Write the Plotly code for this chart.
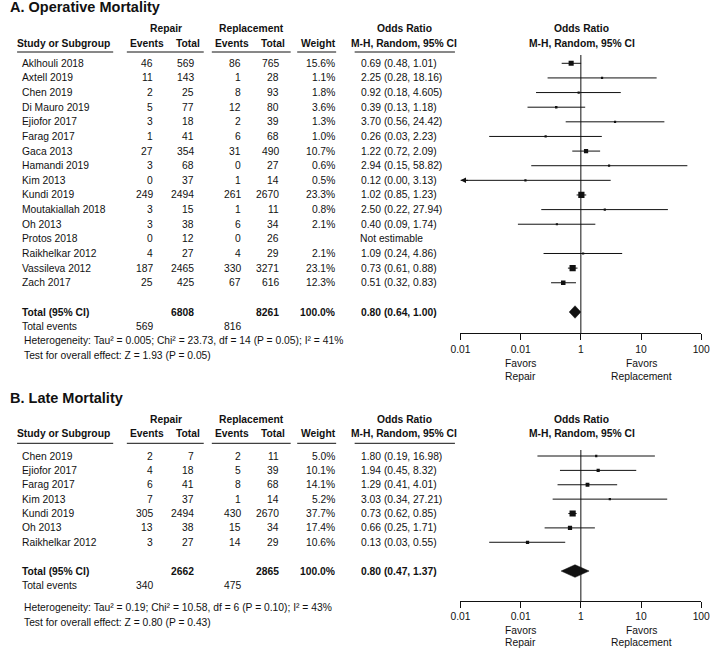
import plotly.graph_objects as go

W, H = 719, 648
FONT = "Liberation Sans, Arial, sans-serif"
INK = "#111111"
FS = 10.3

# ---------------- A. Operative Mortality ----------------
op_study = ["Aklhouli 2018", "Axtell 2019", "Chen 2019", "Di Mauro 2019", "Ejiofor 2017",
            "Farag 2017", "Gaca 2013", "Hamandi 2019", "Kim 2013", "Kundi 2019",
            "Moutakiallah 2018", "Oh 2013", "Protos 2018", "Raikhelkar 2012",
            "Vassileva 2012", "Zach 2017"]
op_rep_ev = [46, 11, 2, 5, 3, 1, 27, 3, 0, 249, 3, 3, 0, 4, 187, 25]
op_rep_tot = [569, 143, 25, 77, 18, 41, 354, 68, 37, 2494, 15, 38, 12, 27, 2465, 425]
op_repl_ev = [86, 1, 8, 12, 2, 6, 31, 0, 1, 261, 1, 6, 0, 4, 330, 67]
op_repl_tot = [765, 28, 93, 80, 39, 68, 490, 27, 14, 2670, 11, 34, 26, 29, 3271, 616]
op_weight = [15.6, 1.1, 1.8, 3.6, 1.3, 1.0, 10.7, 0.6, 0.5, 23.3, 0.8, 2.1, None, 2.1, 23.1, 12.3]
op_or = [0.69, 2.25, 0.92, 0.39, 3.70, 0.26, 1.22, 2.94, 0.12, 1.02, 2.50, 0.40, None, 1.09, 0.73, 0.51]
op_lo = [0.48, 0.28, 0.18, 0.13, 0.56, 0.03, 0.72, 0.15, 0.00, 0.85, 0.22, 0.09, None, 0.24, 0.61, 0.32]
op_hi = [1.01, 18.16, 4.605, 1.18, 24.42, 2.23, 2.09, 58.82, 3.13, 1.23, 27.94, 1.74, None, 4.86, 0.88, 0.83]
op_total = dict(rep_tot=6808, repl_tot=8261, rep_ev=569, repl_ev=816, est=0.80, lo=0.64, hi=1.00)
op_het = "Heterogeneity: Tau² = 0.005; Chi² = 23.73, df = 14 (P = 0.05); I² = 41%"
op_z = "Test for overall effect: Z = 1.93 (P = 0.05)"

# ---------------- B. Late Mortality ----------------
late_study = ["Chen 2019", "Ejiofor 2017", "Farag 2017", "Kim 2013", "Kundi 2019", "Oh 2013",
              "Raikhelkar 2012"]
late_rep_ev = [2, 4, 6, 7, 305, 13, 3]
late_rep_tot = [7, 18, 41, 37, 2494, 38, 27]
late_repl_ev = [2, 5, 8, 1, 430, 15, 14]
late_repl_tot = [11, 39, 68, 14, 2670, 34, 29]
late_weight = [5.0, 10.1, 14.1, 5.2, 37.7, 17.4, 10.6]
late_or = [1.80, 1.94, 1.29, 3.03, 0.73, 0.66, 0.13]
late_lo = [0.19, 0.45, 0.41, 0.34, 0.62, 0.25, 0.03]
late_hi = [16.98, 8.32, 4.01, 27.21, 0.85, 1.71, 0.55]
late_total = dict(rep_tot=2662, repl_tot=2865, rep_ev=340, repl_ev=475, est=0.80, lo=0.47, hi=1.37)
late_het = "Heterogeneity: Tau² = 0.19; Chi² = 10.58, df = 6 (P = 0.10); I² = 43%"
late_z = "Test for overall effect: Z = 0.80 (P = 0.43)"

tick_vals = [0.01, 0.1, 1, 10, 100]
tick_text = ["0.01", "0.01", "1", "10", "100"]

# column anchors (pixels)
X_NAME, X_REV, X_RTOT, X_PEV, X_PTOT, X_W, X_OR = 12.7, 147.3, 189.3, 237.3, 276.7, 334, 361
X_PLOT0, X_PLOT1 = 462.7, 710.0


def num(v):
    s = f"{v:.2f}"
    return s if abs(float(s) - v) < 1e-9 else str(v)


def ci_label(e, lo, hi):
    return f"{num(e)} ({num(lo)}, {num(hi)})"


fig = go.Figure()
ann = []
shapes = []


def txt(x, y, s, xanchor="left", bold=False, yref="paper", size=FS):
    if bold:
        s = f"<b>{s}</b>"
    ann.append(dict(x=x / W, y=(1 - y / H) if yref == "paper" else y, xref="paper", yref=yref,
                    text=s, showarrow=False, xanchor=xanchor, yanchor="middle",
                    borderpad=0, borderwidth=0,
                    font=dict(family=FONT, size=size, color=INK)))


def hline(x0, x1, y):
    shapes.append(dict(type="line", xref="paper", yref="paper", x0=x0 / W, x1=x1 / W,
                       y0=1 - y / H, y1=1 - y / H, line=dict(color=INK, width=1)))


def panel(k, title, y_title, y_head, y_line, v_top, top, step, bottom, total_row,
          study, rev, rtot, pev, ptot, wt, est, lo, hi, tot, het, z, y_het, y_z, y_fav):
    xa = "x" if k == 1 else f"x{k}"
    ya = "y" if k == 1 else f"y{k}"
    yref = ya
    rng = [(bottom - top) / step, (v_top - top) / step]

    txt(0, y_title, title, bold=True, size=14.5)
    # headers
    txt(160, y_head, "Repair", "center", True)
    txt(247.7, y_head, "Replacement", "center", True)
    txt(405, y_head, "Odds Ratio", "center", True)
    txt(587.5, y_head, "Odds Ratio", "center", True)
    y2 = y_head + 14.5
    txt(7.3, y2, "Study or Subgroup", "left", True)
    txt(140.3, y2, "Events", "center", True)
    txt(182.5, y2, "Total", "center", True)
    txt(227.7, y2, "Events", "center", True)
    txt(269.7, y2, "Total", "center", True)
    txt(317, y2, "Weight", "center", True)
    txt(405, y2, "M-H, Random, 95% CI", "center", True)
    txt(587.5, y2, "M-H, Random, 95% CI", "center", True)
    for a, b in [(7.3, 106), (120, 199), (207.3, 288.3), (295, 335), (354, 457)]:
        hline(a, b, y_line)

    smax = max(w for w in wt if w is not None)
    for i, name in enumerate(study):
        txt(X_NAME, i, name, yref=yref)
        txt(X_REV, i, str(rev[i]), "right", yref=yref)
        txt(X_RTOT, i, str(rtot[i]), "right", yref=yref)
        txt(X_PEV, i, str(pev[i]), "right", yref=yref)
        txt(X_PTOT, i, str(ptot[i]), "right", yref=yref)
        if wt[i] is None:
            txt(X_OR - 1, i, "Not estimable", yref=yref)
            continue
        txt(X_W, i, f"{wt[i]:.1f}%", "right", yref=yref)
        txt(X_OR, i, ci_label(est[i], lo[i], hi[i]), yref=yref)
        lo_c = max(lo[i], 0.01)
        fig.add_trace(go.Scatter(x=[lo_c, min(hi[i], 100)], y=[i, i], mode="lines",
                                 line=dict(color=INK, width=1), xaxis=xa, yaxis=ya,
                                 hoverinfo="skip"))
        size = max(2.2, 6.2 * (wt[i] / smax) ** 0.5)
        fig.add_trace(go.Scatter(x=[est[i]], y=[i], mode="markers",
                                 marker=dict(symbol="square", size=size, color=INK,
                                             line=dict(width=0)),
                                 xaxis=xa, yaxis=ya, hoverinfo="skip"))
        if lo[i] < 0.01:
            ann.append(dict(x=-2, y=i, xref=xa, yref=ya, ax=9, ay=0, text="",
                            showarrow=True, arrowhead=2, arrowsize=1.1, arrowwidth=1,
                            arrowcolor=INK, standoff=0))

    # total row
    tr = total_row
    txt(X_NAME, tr, "Total (95% CI)", bold=True, yref=yref)
    txt(X_RTOT, tr, str(tot["rep_tot"]), "right", True, yref=yref)
    txt(X_PTOT, tr, str(tot["repl_tot"]), "right", True, yref=yref)
    txt(X_W, tr, "100.0%", "right", True, yref=yref)
    txt(X_OR, tr, ci_label(tot["est"], tot["lo"], tot["hi"]), bold=True, yref=yref)
    txt(X_NAME, tr + 1, "Total events", yref=yref)
    txt(X_REV, tr + 1, str(tot["rep_ev"]), "right", yref=yref)
    txt(X_PEV, tr + 1, str(tot["repl_ev"]), "right", yref=yref)
    txt(14, y_het, het)
    txt(14, y_z, z)

    hh = 6.3 / step
    fig.add_trace(go.Scatter(x=[tot["lo"], tot["est"], tot["hi"], tot["est"], tot["lo"]],
                             y=[tr, tr - hh, tr, tr + hh, tr], mode="lines", fill="toself",
                             fillcolor=INK, line=dict(color=INK, width=0.5),
                             xaxis=xa, yaxis=ya, hoverinfo="skip"))
    # line of no effect
    fig.add_trace(go.Scatter(x=[1, 1], y=rng, mode="lines", line=dict(color=INK, width=1),
                             xaxis=xa, yaxis=ya, hoverinfo="skip"))

    txt(524.3, y_fav, "Favors", "center")
    txt(524.3, y_fav + 12.7, "Repair", "center")
    txt(648.7, y_fav, "Favors", "center")
    txt(648.7, y_fav + 12.7, "Replacement", "center")

    axis_x = dict(type="log", range=[-2, 2], domain=[X_PLOT0 / W, X_PLOT1 / W],
                  tickvals=tick_vals, ticktext=tick_text, ticks="outside", ticklen=6,
                  tickwidth=1, tickcolor=INK, showline=True, linecolor=INK, linewidth=1,
                  showgrid=False, zeroline=False, anchor=ya,
                  tickfont=dict(family=FONT, size=FS, color=INK))
    axis_y = dict(range=rng, domain=[1 - bottom / H, 1 - v_top / H], visible=False,
                  showgrid=False, zeroline=False, anchor=xa)
    return axis_x, axis_y


xa1, ya1 = panel(1, "A. Operative Mortality", 7, 29, 52, 55, 63.3, 14.63, 333.3, 17,
                 op_study, op_rep_ev, op_rep_tot, op_repl_ev, op_repl_tot, op_weight,
                 op_or, op_lo, op_hi, op_total, op_het, op_z, 340.7, 355.3, 363.3)
xa2, ya2 = panel(2, "B. Late Mortality", 398.3, 419.3, 443.3, 450, 456, 14.38, 601, 8,
                 late_study, late_rep_ev, late_rep_tot, late_repl_ev, late_repl_tot, late_weight,
                 late_or, late_lo, late_hi, late_total, late_het, late_z, 607.3, 622, 630)

fig.update_layout(
    width=W, height=H, margin=dict(l=0, r=0, t=0, b=0),
    paper_bgcolor="white", plot_bgcolor="white", showlegend=False,
    xaxis=xa1, yaxis=ya1, xaxis2=xa2, yaxis2=ya2,
    annotations=ann, shapes=shapes,
    font=dict(family=FONT, size=FS, color=INK),
)

fig.write_html("out.html", config={"displayModeBar": False},
               post_script="document.body.style.margin='0px';document.body.style.overflow='hidden';")
